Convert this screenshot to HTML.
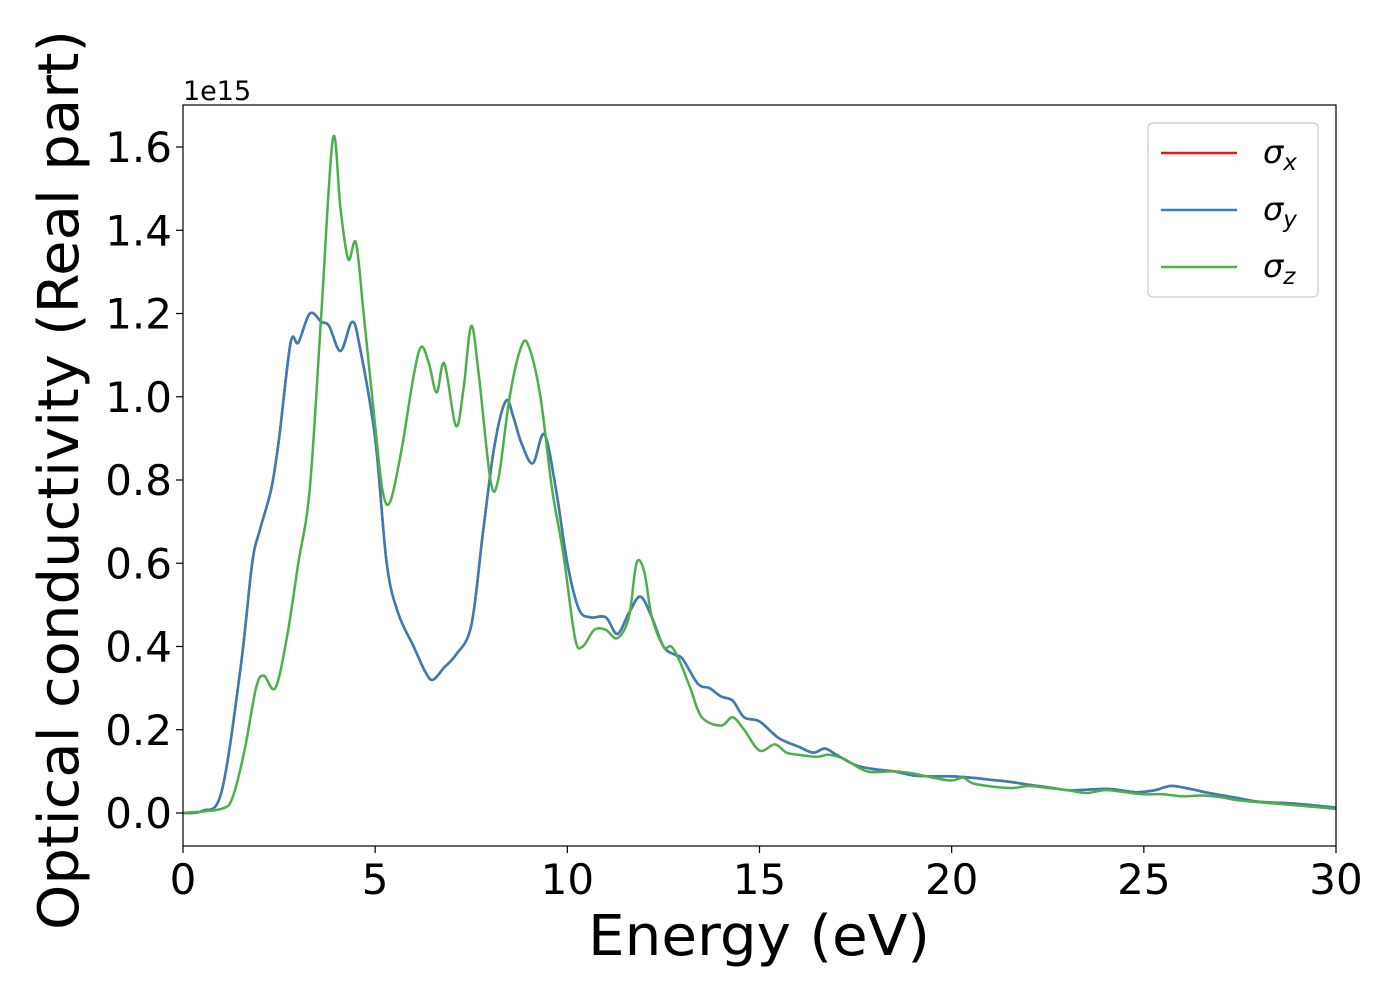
<!DOCTYPE html>
<html><head><meta charset="utf-8"><style>
body{margin:0;background:#fff;}
svg text{font-family:"DejaVu Sans","Liberation Sans",sans-serif;fill:#000;}
</style></head><body>
<svg id="chart" width="1400" height="1000" xmlns="http://www.w3.org/2000/svg">
<g id="plot"></g>
</svg>
<script>
const energyXY=[0,0.5,1,1.5,1.8,2,2.3,2.5,2.8,3.0,3.3,3.6,3.8,4.1,4.4,4.6,5.0,5.3,5.6,6.0,6.3,6.5,6.8,7.1,7.5,7.8,8.1,8.4,8.6,8.8,9.1,9.4,9.7,10.0,10.3,10.6,11.0,11.3,11.6,11.9,12.2,12.5,12.8,13.0,13.4,13.7,14.0,14.3,14.6,15,15.5,16,16.4,16.7,17,17.5,18,18.5,19,19.5,20,20.5,21,21.5,22,22.5,23,23.5,24,24.3,24.8,25.3,25.7,26.2,26.7,27.5,28,29,30];
const sigmaXY=[0,0.005,0.05,0.35,0.6,0.68,0.78,0.9,1.13,1.13,1.2,1.18,1.17,1.11,1.18,1.12,0.9,0.6,0.48,0.4,0.34,0.32,0.35,0.38,0.45,0.67,0.88,0.99,0.95,0.89,0.84,0.91,0.78,0.6,0.49,0.47,0.47,0.43,0.48,0.52,0.47,0.4,0.38,0.37,0.31,0.3,0.28,0.27,0.23,0.22,0.18,0.16,0.145,0.155,0.14,0.115,0.105,0.1,0.09,0.088,0.088,0.085,0.08,0.075,0.068,0.062,0.055,0.056,0.058,0.056,0.05,0.055,0.065,0.058,0.048,0.035,0.027,0.022,0.013];
const energyZ=[0,1,1.3,1.6,1.9,2.1,2.4,2.7,3.0,3.3,3.6,3.9,4.1,4.3,4.5,4.7,5.0,5.2,5.4,5.7,6.0,6.2,6.4,6.6,6.8,7.1,7.3,7.5,7.7,8.0,8.2,8.5,8.8,9.0,9.3,9.6,9.9,10.2,10.4,10.7,11.0,11.3,11.6,11.8,12.0,12.2,12.5,12.7,12.9,13.2,13.5,14,14.3,14.6,15,15.4,15.7,16,16.5,16.8,17.2,17.8,18.5,19,19.5,20,20.3,20.6,21.5,22,22.5,23,23.5,24,24.5,25,25.5,26,26.5,27,27.5,28.5,30];
const sigmaZ=[0,0.01,0.04,0.15,0.3,0.33,0.3,0.42,0.6,0.78,1.2,1.62,1.45,1.33,1.37,1.2,0.93,0.77,0.75,0.88,1.05,1.12,1.08,1.01,1.08,0.93,1.02,1.17,1.05,0.8,0.8,1.0,1.12,1.12,1.0,0.78,0.62,0.42,0.4,0.44,0.44,0.42,0.47,0.6,0.58,0.47,0.4,0.4,0.37,0.3,0.23,0.21,0.23,0.2,0.15,0.165,0.145,0.14,0.135,0.14,0.13,0.1,0.1,0.095,0.085,0.078,0.085,0.07,0.06,0.065,0.06,0.055,0.048,0.055,0.05,0.045,0.045,0.04,0.042,0.038,0.03,0.022,0.01];
const xTicks=[0,5,10,15,20,25,30];
const yTicks=[0,0.2,0.4,0.6,0.8,1.0,1.2,1.4,1.6];
const yTickLabels=["0.0","0.2","0.4","0.6","0.8","1.0","1.2","1.4","1.6"];

const L=183,R=1336,T=105,B=846;
const xS=e=>L+(e-0)/(30-0)*(R-L);
const yS=v=>813-v*416.25;
const NS="http://www.w3.org/2000/svg";
const g=document.getElementById('plot');
function mk(tag,attrs){const el=document.createElementNS(NS,tag);for(const k in attrs)el.setAttribute(k,attrs[k]);g.appendChild(el);return el;}
function smooth(xs,ys){
  const p=xs.map((x,i)=>[xS(x),yS(ys[i])]);
  let d=`M${p[0][0]},${p[0][1]}`;
  for(let i=0;i<p.length-1;i++){
    const p0=p[Math.max(0,i-1)],p1=p[i],p2=p[i+1],p3=p[Math.min(p.length-1,i+2)];
    const c1=[p1[0]+(p2[0]-p0[0])/6,p1[1]+(p2[1]-p0[1])/6];
    const c2=[p2[0]-(p3[0]-p1[0])/6,p2[1]-(p3[1]-p1[1])/6];
    d+=` C${c1[0]},${c1[1]} ${c2[0]},${c2[1]} ${p2[0]},${p2[1]}`;
  }
  return d;
}
const clip=mk('clipPath',{id:'cp'});
const cr=document.createElementNS(NS,'rect');cr.setAttribute('x',L);cr.setAttribute('y',T);cr.setAttribute('width',R-L);cr.setAttribute('height',B-T);clip.appendChild(cr);

let s=mk('path',{d:smooth(energyXY,sigmaXY),fill:'none',stroke:'#e41a1c','stroke-width':2.5,'clip-path':'url(#cp)'});


s=mk('path',{d:smooth(energyXY,sigmaXY),fill:'none',stroke:'#377eb8','stroke-width':2.5,'clip-path':'url(#cp)'});


s=mk('path',{d:smooth(energyZ,sigmaZ),fill:'none',stroke:'#4daf4a','stroke-width':2.5,'clip-path':'url(#cp)'});



let fr=mk('rect',{x:L,y:T,width:R-L,height:B-T,fill:'none',stroke:'#000','stroke-width':1.2});



xTicks.forEach(t=>{
  mk('line',{x1:xS(t),x2:xS(t),y1:B,y2:B+7,stroke:'#000','stroke-width':1.2});
  const tx=mk('text',{x:xS(t),y:B+48,'font-size':42,'text-anchor':'middle'});tx.textContent=t;
  
  
});
yTicks.forEach((t,i)=>{
  mk('line',{x1:L-7,x2:L,y1:yS(t),y2:yS(t),stroke:'#000','stroke-width':1.2});
  const tx=mk('text',{x:L-11,y:yS(t)+15,'font-size':42,'text-anchor':'end'});tx.textContent=yTickLabels[i];
  
  
});
let t=mk('text',{x:183,y:100,'font-size':27});t.textContent='1e15';


t=mk('text',{x:759,y:955,'font-size':56,'text-anchor':'middle',textLength:342,lengthAdjust:'spacingAndGlyphs'});t.textContent='Energy (eV)';


t=mk('text',{x:0,y:0,'font-size':56,'text-anchor':'middle',textLength:900,lengthAdjust:'spacingAndGlyphs',transform:'translate(78,480) rotate(-90)'});t.textContent='Optical conductivity (Real part)';



let lg=mk('rect',{x:1148,y:123,width:170,height:174,rx:5,fill:'#fff',stroke:'#ccc','stroke-width':1.2});


const legCols=['#e41a1c','#377eb8','#4daf4a'];
const legSub=['x','y','z'];
legCols.forEach((c,i)=>{
  const y=153+i*57;
  mk('line',{x1:1161,x2:1237,y1:y,y2:y,stroke:c,'stroke-width':2.5});
  const lt=mk('text',{x:1263,y:y+10,'font-size':32,'font-style':'italic'});
  lt.innerHTML='σ<tspan font-size="23" dy="7">'+legSub[i]+'</tspan>';
  
  
});
</script>
</body></html>
